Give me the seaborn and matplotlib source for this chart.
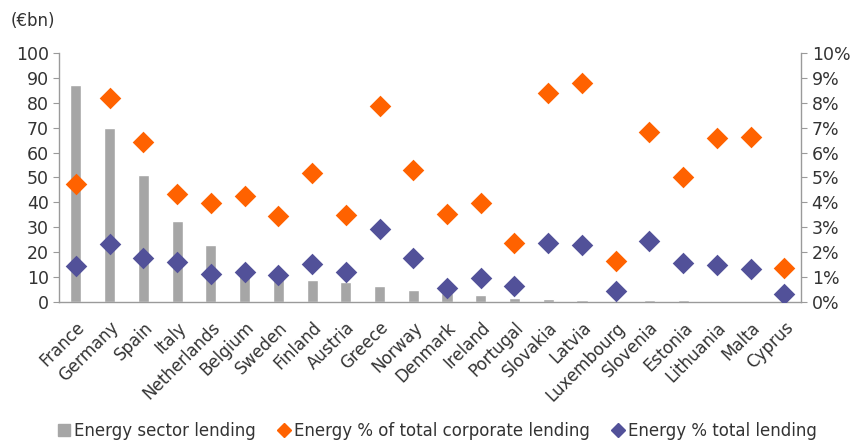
import matplotlib
matplotlib.use("Agg")
import matplotlib.pyplot as plt
from matplotlib.lines import Line2D
from matplotlib.ticker import FixedLocator, PercentFormatter
import seaborn as sns
import pandas as pd
import numpy as np

countries = ["France", "Germany", "Spain", "Italy", "Netherlands", "Belgium", "Sweden",
             "Finland", "Austria", "Greece", "Norway", "Denmark", "Ireland", "Portugal",
             "Slovakia", "Latvia", "Luxembourg", "Slovenia", "Estonia", "Lithuania",
             "Malta", "Cyprus"]
lending_bn = [87, 70, 51, 32.5, 23, 12.5, 11, 8.6, 7.8, 6.4, 4.8, 3.6, 2.8, 1.6,
              1.2, 0.8, 0.5, 0.6, 0.6, 0.4, 0.4, 0.2]
pct_corporate = [4.73, 8.20, 6.43, 4.32, 3.98, 4.26, 3.47, 5.19, 3.51, 7.87, 5.29,
                 3.55, 3.96, 2.36, 8.41, 8.81, 1.65, 6.83, 5.02, 6.57, 6.64, 1.35]
pct_total = [1.46, 2.33, 1.78, 1.61, 1.12, 1.22, 1.08, 1.54, 1.20, 2.94, 1.78,
             0.55, 0.95, 0.62, 2.36, 2.29, 0.45, 2.44, 1.58, 1.50, 1.33, 0.32]

GRAY = "#A6A6A6"
ORANGE = "#FF6200"
PURPLE = "#525199"
AXC = "#9a9a9a"
TXT = "#333333"

df = pd.DataFrame({"country": countries, "lending": lending_bn,
                   "corp": pct_corporate, "total": pct_total})

sns.set_style("white")
plt.rcParams["font.family"] = ["DejaVu Sans"]

fig = plt.figure(figsize=(8.56, 4.42), dpi=100)
ax = fig.add_axes([0.069, 0.317, 0.867, 0.563])

sns.barplot(data=df, x="country", y="lending", order=countries, color=GRAY,
            width=0.33, saturation=1, ax=ax, errorbar=None)
ax2 = ax.twinx()
sns.stripplot(data=df, x="country", y="corp", order=countries, color=ORANGE,
              marker="D", size=11, jitter=False, linewidth=0, ax=ax2, zorder=3)
sns.stripplot(data=df, x="country", y="total", order=countries, color=PURPLE,
              marker="D", size=11, jitter=False, linewidth=0, ax=ax2, zorder=3)

n = len(countries)
ax.set_xlim(-0.5, n - 0.5)
ax.set_ylim(0, 100)
ax2.set_ylim(0, 10)
ax.set_yticks(np.arange(0, 101, 10))
ax2.set_yticks(np.arange(0, 11, 1))
ax2.yaxis.set_major_formatter(PercentFormatter(decimals=0))

ax.set_xlabel("")
ax.set_ylabel("")
ax2.set_xlabel("")
ax2.set_ylabel("")

ax.set_xticks(range(n))
ax.set_xticklabels(countries, rotation=45, ha="right", rotation_mode="anchor",
                   fontsize=12, color=TXT)
ax.tick_params(axis="x", which="major", length=0, pad=12)
ax.xaxis.set_minor_locator(FixedLocator(np.arange(-0.5, n, 1)))
ax.tick_params(axis="x", which="minor", length=4, color=AXC, direction="out")

ax.tick_params(axis="y", labelsize=12.5, labelcolor=TXT, length=4, color=AXC,
               direction="out", left=True)
ax2.tick_params(axis="y", labelsize=12.5, labelcolor=TXT, length=4, color=AXC,
                direction="out", right=True)

for a in (ax, ax2):
    a.spines["top"].set_visible(False)
    for s in ("left", "right", "bottom"):
        a.spines[s].set_color(AXC)
        a.spines[s].set_linewidth(1)
ax.spines["right"].set_visible(False)
ax2.spines["left"].set_visible(False)
ax2.spines["bottom"].set_visible(False)

fig.text(0.012, 0.952, "(€bn)", fontsize=12, color=TXT, va="center", ha="left")

handles = [
    Line2D([], [], marker="s", linestyle="none", color=GRAY, markersize=9),
    Line2D([], [], marker="D", linestyle="none", color=ORANGE, markersize=7),
    Line2D([], [], marker="D", linestyle="none", color=PURPLE, markersize=7),
]
labels = ["Energy sector lending", "Energy % of total corporate lending",
          "Energy % total lending"]
fig.legend(handles, labels, loc="center", bbox_to_anchor=(0.51, 0.025), ncol=3,
           frameon=False, fontsize=12, handletextpad=0.1, columnspacing=1.2,
           labelcolor=TXT, handlelength=1.0)

fig.savefig("out.png", dpi=100)
